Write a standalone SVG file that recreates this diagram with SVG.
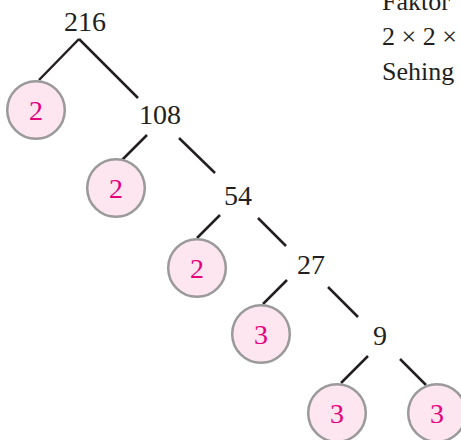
<svg xmlns="http://www.w3.org/2000/svg" width="461" height="440" viewBox="0 0 461 440">
<style>
.n{font-family:"Liberation Serif","DejaVu Serif",serif;font-size:28px;fill:#231f20;text-anchor:middle}
.t{font-family:"Liberation Serif","DejaVu Serif",serif;font-size:26px;fill:#231f20}
.c circle{fill:#fde6f0;stroke:#9a9a9a;stroke-width:2.5}
.c text{font-family:"Liberation Serif","DejaVu Serif",serif;font-size:28px;fill:#e6007e;text-anchor:middle}
.e line{stroke:#231f20;stroke-width:2.5}
</style>
<rect width="461" height="440" fill="#fff"/>
<g id="connectors" class="e">
<line x1="79" y1="39" x2="39" y2="80"/>
<line x1="79" y1="39" x2="138" y2="98"/>
<line x1="147" y1="135" x2="122" y2="160"/>
<line x1="179" y1="138" x2="215" y2="173"/>
<line x1="220" y1="215" x2="197" y2="238"/>
<line x1="258" y1="218" x2="286" y2="246"/>
<line x1="287" y1="280" x2="263" y2="304"/>
<line x1="328" y1="287" x2="358" y2="317"/>
<line x1="368" y1="356" x2="341" y2="383"/>
<line x1="400" y1="359" x2="426" y2="385"/>
</g>
<g id="n216"><text class="n" x="85" y="31">216</text></g>
<g id="n108"><text class="n" x="160" y="124">108</text></g>
<g id="n54"><text class="n" x="238" y="205">54</text></g>
<g id="n27"><text class="n" x="311" y="274">27</text></g>
<g id="n9"><text class="n" x="380" y="345">9</text></g>
<g id="c1" class="c"><circle cx="36" cy="110" r="28.8"/><text x="36" y="120">2</text></g>
<g id="c2" class="c"><circle cx="116" cy="188" r="28.8"/><text x="116" y="198">2</text></g>
<g id="c3" class="c"><circle cx="197" cy="268" r="28.8"/><text x="197" y="278">2</text></g>
<g id="c4" class="c"><circle cx="261" cy="334" r="28.8"/><text x="261" y="344">3</text></g>
<g id="c5" class="c"><circle cx="337" cy="413" r="28.8"/><text x="337" y="423">3</text></g>
<g id="c6" class="c"><circle cx="437" cy="413" r="28.8"/><text x="437" y="423">3</text></g>
<g id="side">
<text class="t" x="382" y="10">Faktor</text>
<text class="t" x="382" y="45">2 × 2 ×</text>
<text class="t" x="382" y="80">Sehing</text>
</g>
</svg>
